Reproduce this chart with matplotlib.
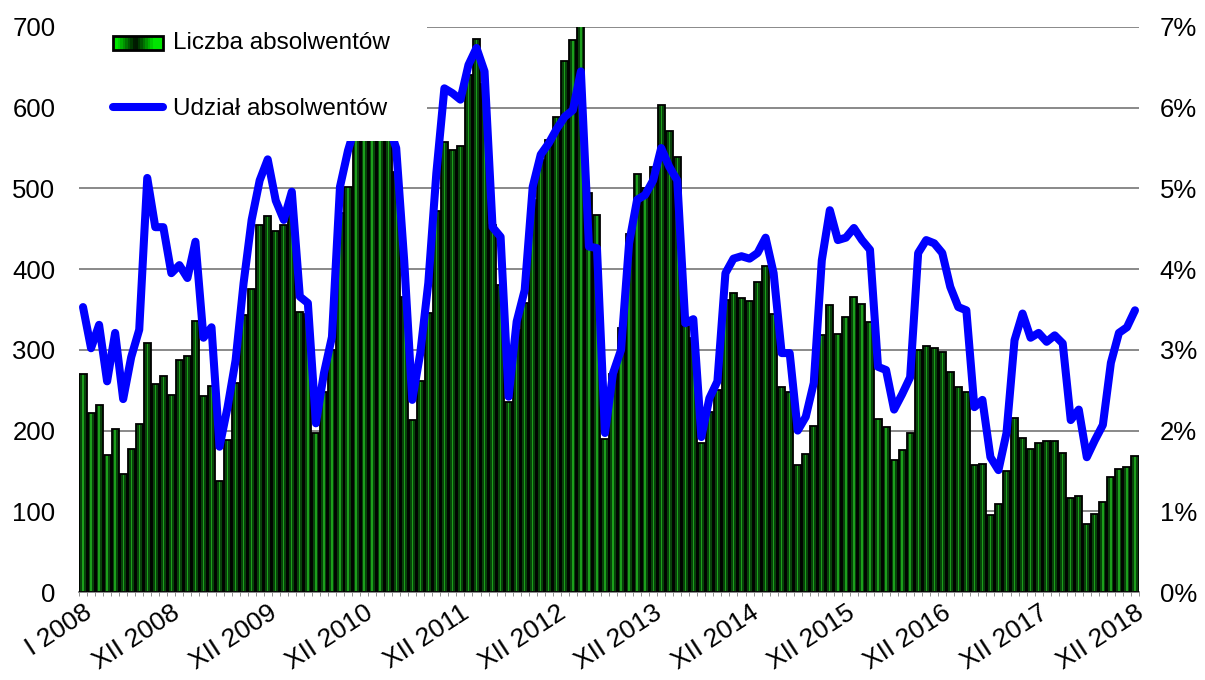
import numpy as np
import matplotlib
matplotlib.use('Agg')
import matplotlib.pyplot as plt
from matplotlib.patches import Rectangle
from matplotlib.lines import Line2D
from matplotlib.legend_handler import HandlerBase

plt.rcParams['font.family'] = ['Liberation Sans', 'DejaVu Sans']

# liczba absolwentow (tys.), I 2008 - XII 2018
liczba = [270, 222, 232, 170, 202, 146, 177, 208, 308, 258, 267, 244,
          287, 292, 336, 243, 255, 138, 188, 259, 343, 375, 455, 466,
          447, 455, 470, 347, 345, 197, 248, 300, 470, 502, 575, 610,
          680, 700, 655, 520, 366, 213, 262, 346, 472, 557, 548, 553,
          640, 685, 630, 455, 380, 235, 325, 358, 486, 535, 560, 589,
          658, 684, 720, 494, 467, 190, 270, 327, 443, 518, 500, 527,
          603, 571, 539, 330, 315, 185, 223, 250, 362, 370, 364, 361,
          384, 404, 345, 254, 248, 157, 171, 206, 318, 356, 320, 341,
          366, 357, 334, 214, 205, 164, 176, 197, 300, 305, 302, 297,
          273, 254, 248, 157, 159, 95, 109, 150, 216, 191, 177, 184,
          187, 187, 172, 116, 119, 84, 97, 111, 142, 152, 155, 169]

# udzial absolwentow (%)
udzial = [3.53, 3.02, 3.31, 2.61, 3.21, 2.39, 2.91, 3.25, 5.13, 4.52, 4.52, 3.95,
          4.05, 3.89, 4.34, 3.15, 3.28, 1.80, 2.29, 2.87, 3.83, 4.61, 5.10, 5.36,
          4.85, 4.61, 4.96, 3.66, 3.58, 2.09, 2.71, 3.16, 5.02, 5.47, 5.80, 6.00,
          6.10, 6.00, 5.80, 5.50, 4.10, 2.38, 2.96, 3.83, 5.19, 6.24, 6.18, 6.10,
          6.53, 6.74, 6.45, 4.52, 4.40, 2.42, 3.35, 3.74, 5.02, 5.42, 5.56, 5.74,
          5.89, 5.97, 6.45, 4.28, 4.26, 1.97, 2.71, 3.00, 4.32, 4.86, 4.92, 5.10,
          5.50, 5.27, 5.10, 3.33, 3.38, 1.92, 2.40, 2.61, 3.95, 4.13, 4.16, 4.13,
          4.20, 4.39, 3.95, 2.96, 2.96, 2.00, 2.17, 2.59, 4.11, 4.73, 4.36, 4.39,
          4.51, 4.36, 4.24, 2.79, 2.75, 2.26, 2.45, 2.66, 4.20, 4.36, 4.32, 4.20,
          3.78, 3.53, 3.49, 2.29, 2.38, 1.67, 1.51, 1.97, 3.12, 3.45, 3.15, 3.21,
          3.10, 3.18, 3.08, 2.13, 2.26, 1.67, 1.88, 2.07, 2.84, 3.21, 3.28, 3.49]

etykiety = ['I 2008', 'XII 2008', 'XII 2009', 'XII 2010', 'XII 2011', 'XII 2012',
            'XII 2013', 'XII 2014', 'XII 2015', 'XII 2016', 'XII 2017', 'XII 2018']
etykiety_idx = [0, 11, 23, 35, 47, 59, 71, 83, 95, 107, 119, 131]


class GradientHandler(HandlerBase):
    # green - black - green patch like the excel gradient fill
    def create_artists(self, legend, orig, xd, yd, w, h, fs, trans):
        arts = []
        n = 20
        for k in range(n):
            t = k / (n - 1)
            g = min(1.0, abs(t - 0.45) * 2.6)
            r = Rectangle((xd + w * k / n, yd), w / n + 0.3, h,
                          facecolor=(0, 0.05 + 0.85 * g, 0), edgecolor='none',
                          transform=trans)
            arts.append(r)
        arts.append(Rectangle((xd, yd), w, h, facecolor='none', edgecolor='black',
                              lw=2, transform=trans))
        return arts


x = np.arange(len(liczba))

fig = plt.figure(figsize=(12.05, 6.8), dpi=100)
ax = fig.add_axes([79 / 1205, 88 / 680, 1060 / 1205, 565 / 680])

ax.bar(x, liczba, width=0.88, color='#08420a', edgecolor='none', zorder=2)
ax.bar(x, liczba, width=0.16, color='#1c9e1c', edgecolor='none', zorder=3)
ax.bar(x, liczba, width=0.88, fill=False, edgecolor='black', lw=1.3, zorder=4)

ax.set_xlim(-0.5, len(liczba) - 0.5)
ax.set_ylim(0, 700)
ax.set_yticks(range(0, 701, 100))
ax.yaxis.grid(True, color='#808080', lw=1.3)
ax.set_axisbelow(True)
for s in ['top', 'right', 'left']:
    ax.spines[s].set_visible(False)
ax.spines['bottom'].set_color('#808080')
ax.spines['bottom'].set_linewidth(1.3)
ax.tick_params(axis='y', length=0, pad=17, labelsize=18.5)
ax.set_xticks(etykiety_idx)
ax.set_xticklabels(etykiety, rotation=33, ha='right', rotation_mode='anchor',
                   fontsize=19)
ax.tick_params(axis='x', length=0, pad=6)
ax.set_xticks(np.arange(-0.5, len(liczba), 1), minor=True)
ax.tick_params(axis='x', which='minor', length=3, color='#808080')

ax2 = ax.twinx()
ax2.plot(x, udzial, color='#0000ff', lw=5.8, solid_joinstyle='round',
         solid_capstyle='round', zorder=2)
ax2.set_ylim(0, 7)
ax2.set_yticks(range(0, 8))
ax2.set_yticklabels([f'{v}%' for v in range(0, 8)])
ax2.tick_params(axis='y', length=0, pad=15, labelsize=18.5)
for s in ['top', 'right', 'left', 'bottom']:
    ax2.spines[s].set_visible(False)

# white legend area, covers bars and line like in the original
ax2.add_patch(Rectangle((79 / 1205, 1 - 141 / 680), (427 - 79) / 1205, 141 / 680,
                        transform=fig.transFigure, facecolor='white',
                        edgecolor='none', zorder=4, clip_on=False))

h_bar = Rectangle((0, 0), 1, 1)
h_line = Line2D([], [], color='#0000ff', lw=5.8, solid_capstyle='round')
leg = ax2.legend([h_bar, h_line], ['Liczba absolwentów', 'Udział absolwentów'],
                 handler_map={Rectangle: GradientHandler()},
                 loc='upper left', bbox_to_anchor=(113 / 1205, 1 - 32 / 680),
                 bbox_transform=fig.transFigure, frameon=False, fontsize=17.5,
                 borderpad=0, borderaxespad=0, handlelength=2.05,
                 handletextpad=0.4, handleheight=0.55, labelspacing=1.8)
leg.set_zorder(5)

fig.savefig('out.png', dpi=100)
